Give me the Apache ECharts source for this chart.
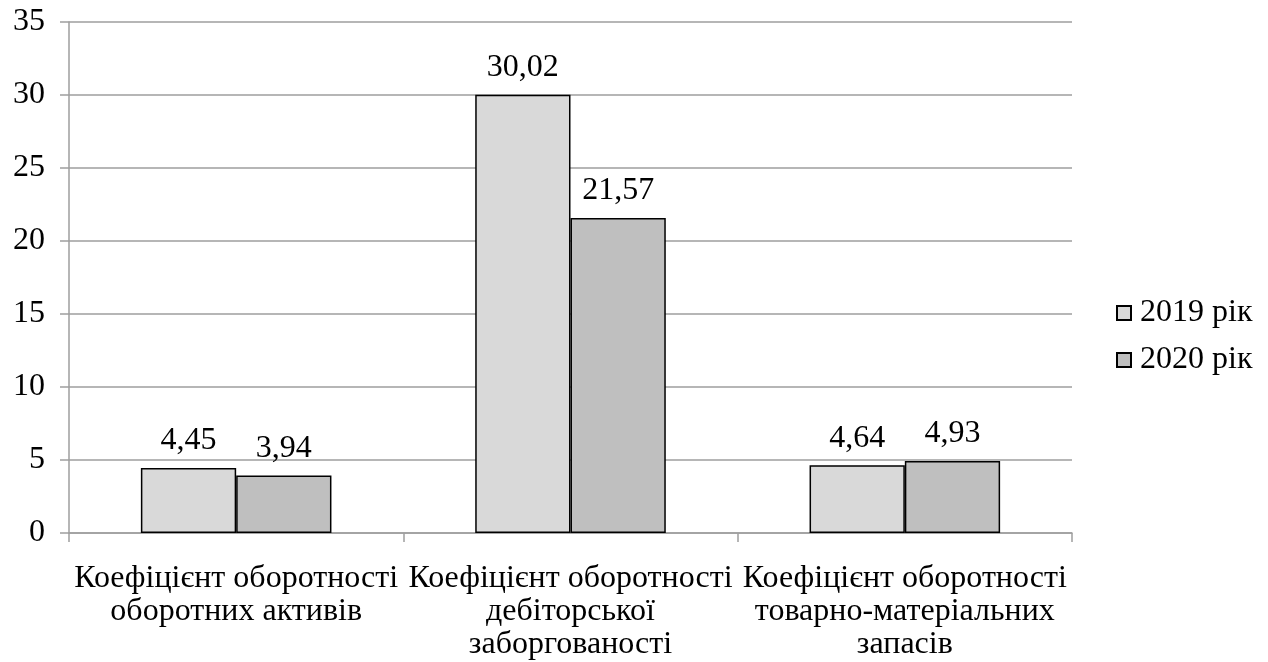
<!DOCTYPE html>
<html>
<head>
<meta charset="utf-8">
<script src="https://cdn.jsdelivr.net/npm/echarts@6/dist/echarts.min.js"></script>
<style>html,body{margin:0;padding:0;background:#fff}#c{width:1268px;height:662px}</style>
</head>
<body>
<div id="c"></div>
<script>
const categories = [
  "Коефіцієнт оборотності\nоборотних активів",
  "Коефіцієнт оборотності\nдебіторської\nзаборгованості",
  "Коефіцієнт оборотності\nтоварно-матеріальних\nзапасів"
];
const seriesNames = ["2019 рік", "2020 рік"];
const values2019 = [4.45, 30.02, 4.64];
const values2020 = [3.94, 21.57, 4.93];
const colors = ["#d9d9d9", "#bfbfbf"];

const font = "'Liberation Serif', 'Times New Roman', serif";
const FS = 32;
const chart = echarts.init(document.getElementById('c'), null, {renderer: 'canvas'});
const mkSeries = (name, data, color) => ({
  name: name,
  type: 'bar',
  data: data,
  barGap: '0%',
  barCategoryGap: '43%',
  itemStyle: {color: color, borderColor: '#000', borderWidth: 1.5},
  label: {
    show: true, position: 'top', distance: 11,
    fontFamily: font, fontSize: FS, color: '#000',
    formatter: p => p.value.toFixed(2).replace('.', ',')
  }
});
chart.setOption({
  animation: false,
  backgroundColor: '#fff',
  textStyle: {fontFamily: font},
  grid: {left: 69, right: 196, top: 22, bottom: 129, containLabel: false},
  legend: {
    orient: 'vertical', left: 1111, top: 292,
    itemWidth: 14, itemHeight: 14, itemGap: 15,
    icon: 'rect',
    textStyle: {fontFamily: font, fontSize: FS, color: '#000', padding: [0,0,0,4]},
    data: seriesNames
  },
  xAxis: {
    type: 'category',
    data: categories,
    axisLine: {lineStyle: {color: '#9e9e9e', width: 1.5}},
    axisTick: {show: true, length: 9, lineStyle: {color: '#9e9e9e', width: 1.5}},
    axisLabel: {
      interval: 0, margin: 29, fontFamily: font, fontSize: FS, color: '#000',
      lineHeight: 33, align: 'center'
    }
  },
  yAxis: {
    type: 'value', min: 0, max: 35, interval: 5,
    axisLine: {show: true, lineStyle: {color: '#9e9e9e', width: 1.5}},
    axisTick: {show: true, length: 9, lineStyle: {color: '#9e9e9e', width: 1.5}},
    splitLine: {lineStyle: {color: '#9e9e9e', width: 1.5}},
    axisLabel: {margin: 24, fontFamily: font, fontSize: FS, color: '#000'}
  },
  series: [
    mkSeries(seriesNames[0], values2019, colors[0]),
    mkSeries(seriesNames[1], values2020, colors[1])
  ]
});
</script>
</body>
</html>
